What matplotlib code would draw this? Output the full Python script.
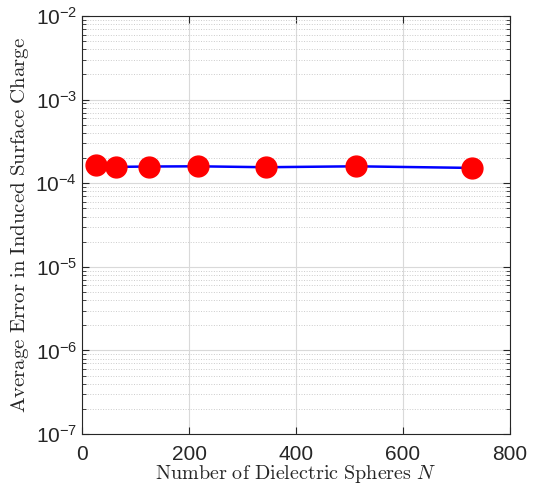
import matplotlib
matplotlib.use("Agg")
import matplotlib.pyplot as plt
import matplotlib.ticker as mticker

# number of spheres (cubes) and average error
n_spheres = [27, 64, 125, 216, 343, 512, 729]
avg_error = [1.65e-4, 1.57e-4, 1.585e-4, 1.595e-4, 1.555e-4, 1.595e-4, 1.525e-4]

x_ticks = [0, 200, 400, 600, 800]

plt.rcParams['font.family'] = ['Liberation Sans', 'DejaVu Sans']
plt.rcParams['mathtext.fontset'] = 'custom'
plt.rcParams['mathtext.rm'] = 'Liberation Sans'
plt.rcParams['mathtext.it'] = 'Liberation Sans:italic'
plt.rcParams['mathtext.bf'] = 'Liberation Sans:bold'

fig = plt.figure(figsize=(5.34, 4.87), dpi=100)
ax = fig.add_axes([0.1536, 0.1088, 0.8014, 0.8582])

ax.semilogy(n_spheres, avg_error, '-', color=(0, 0, 1), linewidth=1.8, zorder=3)
ax.semilogy(n_spheres, avg_error, 'o', color='red', markersize=15, zorder=4)

ax.set_xlim(0, 800)
ax.set_ylim(1e-7, 1e-2)
ax.set_xticks(x_ticks)
ax.yaxis.set_major_locator(mticker.LogLocator(base=10, numticks=10))
ax.yaxis.set_minor_locator(mticker.LogLocator(base=10, subs=range(2, 10), numticks=20))
ax.yaxis.set_minor_formatter(mticker.NullFormatter())

# MATLAB-ish grid
ax.grid(True, which='major', color='0.85', linestyle='-', linewidth=0.8)
ax.grid(True, which='minor', axis='y', color='0.8', linestyle=':', linewidth=0.7)
ax.set_axisbelow(True)

ax.tick_params(which='both', direction='in', top=True, right=True, colors='0.15',
               labelsize=15)
ax.tick_params(which='major', length=5)
ax.tick_params(which='minor', length=3)
ax.tick_params(axis='x', pad=8)
for s in ax.spines.values():
    s.set_color('0.15')
    s.set_linewidth(0.8)

ax.set_xlabel(r'$\mathrm{Number\ of\ Dielectric\ Spheres}\ N$', fontsize=14.5,
              math_fontfamily='cm', color='0.15', labelpad=-1)
ax.set_ylabel(r'$\mathrm{Average\ Error\ in\ Induced\ Surface\ Charge}$', fontsize=15,
              math_fontfamily='cm', color='0.15', labelpad=3)

fig.savefig('out.png', dpi=100)
